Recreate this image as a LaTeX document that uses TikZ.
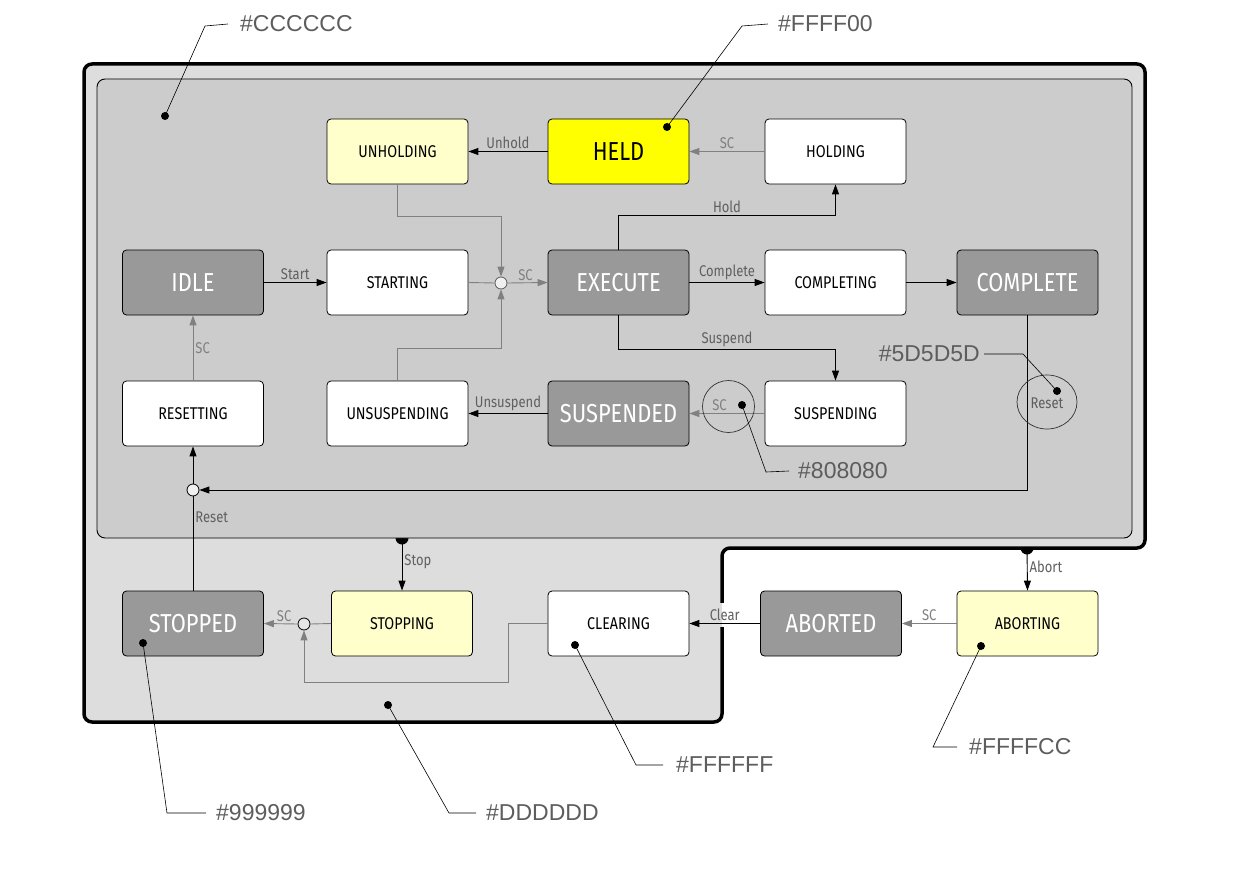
\documentclass[tikz,border=0pt]{standalone}
\usepackage{fontspec}
\setmainfont{Liberation Sans}
\newfontfamily\ub[FakeStretch=0.84]{Fira Sans}
\usetikzlibrary{arrows.meta,shapes.geometric}
\definecolor{cDD}{HTML}{DDDDDD}
\definecolor{cCC}{HTML}{CCCCCC}
\definecolor{c99}{HTML}{999999}
\definecolor{cFC}{HTML}{FFFFCC}
\definecolor{cYY}{HTML}{FFFF00}
\definecolor{cGr}{HTML}{808080}
\definecolor{cLb}{HTML}{606060}
\definecolor{cAn}{HTML}{5D5D5D}
\tikzset{
  state/.style={draw, rounded corners=4pt, minimum width=141pt, minimum height=65pt,
    line width=0.8pt, inner sep=0pt, fill=white, font=\ub\fontsize{17}{17}\selectfont},
  bigstate/.style={state, fill=c99, text=white, font=\ub\fontsize{26}{26}\selectfont},
  ystate/.style={state, fill=cFC},
  junc/.style={circle, draw, line width=0.8pt, minimum size=12pt, inner sep=0pt},
  barr/.style={draw=black, line width=0.9pt, -{Triangle[length=10pt,width=7pt]}},
  garr/.style={draw=cGr, line width=0.9pt, -{Triangle[length=10pt,width=7pt]}},
  bline/.style={draw=black, line width=0.9pt},
  gline/.style={draw=cGr, line width=0.9pt},
  lab/.style={font=\ub\fontsize{15.5}{15.5}\selectfont, text=cLb, inner sep=2pt},
  sclab/.style={font=\ub\fontsize{15.5}{15.5}\selectfont, text=cGr, inner sep=2pt},
  anno/.style={font=\fontsize{23}{23}\selectfont, text=cAn, inner sep=0pt},
  leader/.style={draw=black, line width=0.6pt},
  adot/.style={circle, fill=black, minimum size=8pt, inner sep=0pt},
}
\begin{document}
\begin{tikzpicture}[x=1pt,y=-1pt]
\useasboundingbox[fill=white] (0,0) rectangle (1247,888);
% abort dot (behind outer shape)
\node[circle, fill=black, minimum size=13pt, inner sep=0pt] (abdot) at (1027,548) {};
% outer region
\draw[line width=3.5pt, fill=cDD, rounded corners=8pt]
  (84,64) -- (1145,64) -- (1145,548) -- (722,548) -- (722,722) -- (84,722) -- cycle;
% stop dot (behind inner box)
\node[circle, fill=black, minimum size=13pt, inner sep=0pt] (stdot) at (402,538) {};
% inner region
\draw[line width=0.9pt, fill=cCC, rounded corners=8pt] (97,79) rectangle (1132,538);
% gap in border for Clear line
\fill[cDD] (719,603) rectangle (722,627);
\fill[white] (722,603) rectangle (726,627);

% states
\node[ystate] (UNHOLDING) at (397.5,151.5) {UNHOLDING};
\node[state, fill=cYY, font=\ub\fontsize{26}{26}\selectfont] (HELD) at (618.5,151.5) {HELD};
\node[state] (HOLDING) at (835.5,151.5) {HOLDING};
\node[bigstate] (IDLE) at (193,282.5) {IDLE};
\node[state] (STARTING) at (397.5,282.5) {STARTING};
\node[bigstate] (EXECUTE) at (618.5,282.5) {EXECUTE};
\node[state] (COMPLETING) at (835.5,282.5) {COMPLETING};
\node[bigstate] (COMPLETE) at (1027.5,282.5) {COMPLETE};
\node[state] (RESETTING) at (193,413.5) {RESETTING};
\node[state] (UNSUSPENDING) at (397.5,413.5) {UNSUSPENDING};
\node[bigstate] (SUSPENDED) at (618.5,413.5) {SUSPENDED};
\node[state] (SUSPENDING) at (835.5,413.5) {SUSPENDING};
\node[bigstate] (STOPPED) at (193,623.5) {STOPPED};
\node[ystate] (STOPPING) at (402,623.5) {STOPPING};
\node[state] (CLEARING) at (618.5,623.5) {CLEARING};
\node[bigstate] (ABORTED) at (831,623.5) {ABORTED};
\node[ystate] (ABORTING) at (1027.5,623.5) {ABORTING};

% junctions
\node[junc, draw=cGr!70!black, fill=white!94!black] (j1) at (501,283) {};
\node[junc, fill=white!94!black] (j2) at (193,490) {};
\node[junc, fill=white!90!black] (j3) at (304,624) {};

% connectors
\draw[garr] (UNHOLDING.south) -- ++(0,32) -| (j1.north);
\draw[garr] (UNSUSPENDING.north) -- ++(0,-32) -| (j1.south);
\draw[gline] (STARTING.east) -- (j1.west);
\draw[garr] (j1.east) -- node[sclab, above, pos=0.45] {SC} (EXECUTE.west);
\draw[barr] (IDLE) -- node[lab, above] {Start} (STARTING);
\draw[barr] (HELD) -- node[lab, above] {Unhold} (UNHOLDING);
\draw[garr] (HOLDING) -- node[sclab, above] {SC} (HELD);
\draw[barr] (EXECUTE.north) -- ++(0,-34) -| node[lab, above, pos=0.25] {Hold} (HOLDING.south);
\draw[barr] (EXECUTE) -- node[lab, above] {Complete} (COMPLETING);
\draw[barr] (COMPLETING) -- (COMPLETE);
\draw[barr] (EXECUTE.south) -- ++(0,34) -| node[lab, above, pos=0.25] {Suspend} (SUSPENDING.north);
\draw[garr] (SUSPENDING) -- node[sclab, above, pos=0.6] (scS) {SC} (SUSPENDED);
\draw[barr] (SUSPENDED) -- node[lab, above] {Unsuspend} (UNSUSPENDING);
\draw[garr] (RESETTING) -- node[sclab, right, pos=0.5] {SC} (IDLE);
\draw[barr] (COMPLETE.south) |- (j2.east);
\node[lab, text=cAn] (rst) at (1047,403) {Reset};
\draw[barr] (j2.north) -- (RESETTING.south);
\draw[bline] (STOPPED.north) -- node[lab, right, pos=0.78] {Reset} (j2.south);
\draw[barr] (stdot.center) -- node[lab, right, pos=0.45] {Stop} (STOPPING.north);
\draw[barr] (abdot.center) -- node[lab, right, pos=0.45] {Abort} (ABORTING.north);
\draw[garr] (ABORTING) -- node[sclab, above] {SC} (ABORTED);
\draw[barr] (ABORTED) -- node[lab, above] {Clear} (CLEARING);
\draw[garr] (CLEARING.west) -- ++(-39,0) -- ++(0,59) -| (j3.south);
\draw[gline] (STOPPING.west) -- (j3.east);
\draw[garr] (j3.west) -- node[sclab, above, pos=0.4] {SC} (STOPPED.east);

% annotation circles
\node[circle, draw=black!80, line width=0.7pt, minimum size=52pt, inner sep=0pt] (scCirc) at (728.5,406.5) {};
\node[ellipse, draw=black!80, line width=0.7pt, minimum width=60pt, minimum height=54pt, inner sep=0pt] (rstCirc) at (1047,402) {};

% annotations
\node[anno, anchor=west] (tCC) at (240,24) {\#CCCCCC};
\node[adot] (dCC) at (165,116) {};
\coordinate (kCC) at (205,26);
\draw[leader] (dCC.center) -- (kCC) -- ([xshift=-12pt]tCC.west);

\node[anno, anchor=west] (tFF) at (778,24) {\#FFFF00};
\node[adot] (dFF) at (667,127) {};
\coordinate (kFF) at (742,26);
\draw[leader] (dFF.center) -- (kFF) -- ([xshift=-10pt]tFF.west);

\node[anno, anchor=east] (t5D) at (980,354) {\#5D5D5D};
\node[adot] (d5D) at (1057,391) {};
\coordinate (k5D) at (1023,354);
\draw[leader] (d5D.center) -- (k5D) -- ([xshift=4pt]t5D.east);

\node[anno, anchor=west] (t80) at (798,471) {\#808080};
\node[adot] (d80) at (742,405) {};
\coordinate (k80) at (766,472);
\draw[leader] (d80.center) -- (k80) -- ([xshift=-9pt]t80.west);

\node[anno, anchor=west] (tWW) at (676,765) {\#FFFFFF};
\node[adot] (dWW) at (575,645) {};
\coordinate (kWW) at (636,765);
\draw[leader] (dWW.center) -- (kWW) -- ([xshift=-13pt]tWW.west);

\node[anno, anchor=west] (tFC) at (969,747) {\#FFFFCC};
\node[adot] (dFC) at (981,646) {};
\coordinate (kFC) at (933,747);
\draw[leader] (dFC.center) -- (kFC) -- ([xshift=-12pt]tFC.west);

\node[anno, anchor=west] (t99) at (216,813) {\#999999};
\node[adot] (d99) at (143,643) {};
\coordinate (k99) at (167,813);
\draw[leader] (d99.center) -- (k99) -- ([xshift=-10pt]t99.west);

\node[anno, anchor=west] (tDD) at (486,813) {\#DDDDDD};
\node[adot] (dDD) at (388,705) {};
\coordinate (kDD) at (449,813);
\draw[leader] (dDD.center) -- (kDD) -- ([xshift=-10pt]tDD.west);
\end{tikzpicture}
\end{document}
